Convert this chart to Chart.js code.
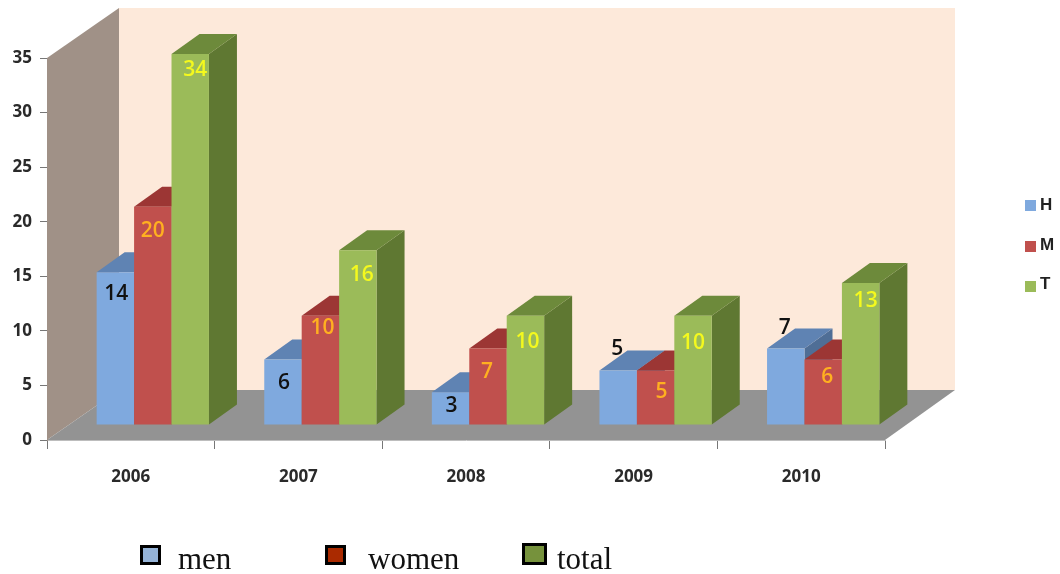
<!DOCTYPE html>
<html>
<head>
<meta charset="utf-8">
<script src="https://cdn.jsdelivr.net/npm/chart.js@4"></script>
<style>
  body { margin: 0; background: #fff; }
  #wrap { position: relative; width: 1060px; height: 574px; overflow: hidden; }
  #chart { position: absolute; left: 0; top: 0; }
  .key { position: absolute; font: bold 17px "Liberation Sans", sans-serif; color: #222; line-height: 17px; }
  .swatch { position: absolute; width: 11px; height: 11px; }
  .note { position: absolute; font: 31px "Liberation Serif", serif; color: #111; line-height: 31px; }
  .box { position: absolute; box-sizing: border-box; border: 3px solid #000; }
</style>
</head>
<body>
<div id="wrap">
  <canvas id="chart" width="1060" height="574"></canvas>
  <div id="side-legend"></div>
  <div id="bottom-legend"></div>
</div>
<script>
const years = ['2006', '2007', '2008', '2009', '2010'];
const menValues = [14, 6, 3, 5, 7];
const womenValues = [20, 10, 7, 5, 6];
const totalValues = [34, 16, 10, 10, 13];
const yTicks = [0, 5, 10, 15, 20, 25, 30, 35];
const seriesNames = ['H', 'M', 'T'];
const bottomNames = ['men', 'women', 'total'];

// the bars stand a bit behind the axis plane, like the old 3D charts
const shiftX = 22, shiftY = 15;
const barDepthX = 28, barDepthY = 20;
const wallDepthX = 72, wallDepthY = 50;

const topColors = ['#5F83B3', '#9C3634', '#6D8A3B'];
const sideColors = ['#4F6E96', '#86302E', '#5F7832'];

// hand placed label tweaks, dx and dy from the bar top
const labelSpots = [
  { color: '#111', spots: [[1, 22], [1, 24], [1, 14], [-1, -21], [-1, -21]] },
  { color: '#FFB020', spots: [[0, 24], [2, 12], [-1, 23], [6, 22], [4, 18]] },
  { color: '#F4F91E', spots: [[5, 16], [4, 25], [2, 26], [0, 27], [5, 18]] }
];

function poly(ctx, color, pts) {
  ctx.fillStyle = color;
  ctx.beginPath();
  pts.forEach((p, i) => i ? ctx.lineTo(p[0], p[1]) : ctx.moveTo(p[0], p[1]));
  ctx.closePath();
  ctx.fill();
}

const box3d = {
  id: 'box3d',
  beforeDraw(chart) {
    const { ctx, chartArea: a } = chart;
    const backL = a.left + wallDepthX, backT = a.top - wallDepthY;
    const backB = a.bottom - wallDepthY, backR = a.right + wallDepthX - 2;
    poly(ctx, '#FDE9DA', [[backL, backT], [backR, backT], [backR, backB], [backL, backB]]);
    poly(ctx, '#A09187', [[a.left, a.top], [backL, backT], [backL, backB], [a.left, a.bottom]]);
    poly(ctx, '#939393', [[a.left, a.bottom], [backL, backB], [backR, backB], [a.right, a.bottom]]);
  },
  // chart.js paints the first dataset last, here the right hand bars must win
  beforeDatasetsDraw(chart) {
    const ctx = chart.ctx;
    ctx.save();
    ctx.translate(shiftX, -shiftY);
    chart.data.datasets.forEach((ds, i) => {
      const meta = chart.getDatasetMeta(i);
      meta.data.forEach(bar => {
        const l = bar.x - bar.width / 2, r = bar.x + bar.width / 2;
        poly(ctx, sideColors[i], [[r, bar.y], [r + barDepthX, bar.y - barDepthY],
          [r + barDepthX, bar.base - barDepthY], [r, bar.base]]);
        poly(ctx, topColors[i], [[l, bar.y], [l + barDepthX, bar.y - barDepthY],
          [r + barDepthX, bar.y - barDepthY], [r, bar.y]]);
      });
      meta.controller.draw();
    });
    ctx.font = '600 21px "Open Sans", sans-serif';
    ctx.textAlign = 'center';
    ctx.textBaseline = 'middle';
    chart.data.datasets.forEach((ds, i) => {
      ctx.fillStyle = labelSpots[i].color;
      chart.getDatasetMeta(i).data.forEach((bar, j) => {
        const s = labelSpots[i].spots[j];
        ctx.fillText(ds.data[j], bar.x + s[0], bar.y + s[1]);
      });
    });
    ctx.restore();
  },
  beforeDatasetDraw() {
    return false;
  }
};

const chart = new Chart(document.getElementById('chart'), {
  type: 'bar',
  data: {
    labels: years,
    datasets: [
      { label: seriesNames[0], data: menValues, backgroundColor: '#7FA9DE' },
      { label: seriesNames[1], data: womenValues, backgroundColor: '#C0504D' },
      { label: seriesNames[2], data: totalValues, backgroundColor: '#9BBB59' }
    ]
  },
  plugins: [box3d],
  options: {
    responsive: false,
    animation: false,
    categoryPercentage: 0.67,
    barPercentage: 1,
    layout: { padding: { top: 58, right: 175 } },
    plugins: { legend: { display: false }, tooltip: { enabled: false }, title: { display: false } },
    scales: {
      x: {
        afterFit(scale) { scale.height = 134; },
        grid: { drawOnChartArea: false, tickLength: 9, tickColor: '#777', tickWidth: 1 },
        border: { color: '#BDBDBD' },
        ticks: { color: '#2A2A2A', padding: 18, font: { family: 'Open Sans', weight: 'bold', size: 17 } }
      },
      y: {
        min: 0,
        max: 35,
        afterFit(scale) { scale.width = 47; },
        afterBuildTicks(scale) { scale.ticks = yTicks.map(v => ({ value: v })); },
        grid: { drawOnChartArea: false, tickLength: 7, tickColor: '#777', tickWidth: 1 },
        border: { color: '#A09187' },
        ticks: { color: '#2A2A2A', padding: 8, font: { family: 'Open Sans', weight: 'bold', size: 17 } }
      }
    }
  }
});

// legends sit outside the plot, so they are plain elements
const sideLegend = document.getElementById('side-legend');
chart.data.datasets.forEach((ds, i) => {
  const top = 200 + i * 40.5;
  sideLegend.insertAdjacentHTML('beforeend',
    `<div class="swatch" style="left:1025px;top:${top}px;background:${ds.backgroundColor}"></div>
     <div class="key" style="left:1040px;top:${top - 4 - i}px">${ds.label}</div>`);
});

const bottomLegend = document.getElementById('bottom-legend');
const boxFills = ['#95B3D7', '#AA2A00', '#76923C'];
const boxLeft = [140, 325, 522], boxTop = [545, 545, 543], boxSize = [21, 21, 25];
const textLeft = [178, 368, 557];
bottomNames.forEach((name, i) => {
  bottomLegend.insertAdjacentHTML('beforeend',
    `<div class="box" style="left:${boxLeft[i]}px;top:${boxTop[i]}px;width:${boxSize[i]}px;height:${boxTop[i] === 543 ? 22 : 20}px;background:${boxFills[i]}"></div>
     <div class="note" style="left:${textLeft[i]}px;top:543px">${name}</div>`);
});
</script>
</body>
</html>
